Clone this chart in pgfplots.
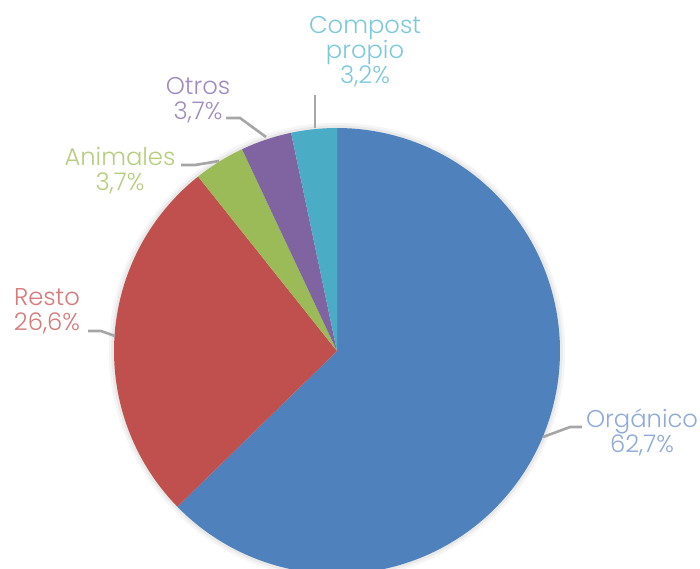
\documentclass[border=0pt]{standalone}
\usepackage{pgfplots}
\pgfplotsset{compat=1.18}
\usepackage{fontspec}
\setmainfont{Poppins}[UprightFont=*-Light]
\definecolor{cOrg}{HTML}{4F81BD}
\definecolor{cRes}{HTML}{C0504D}
\definecolor{cAni}{HTML}{9BBB59}
\definecolor{cOtr}{HTML}{8064A2}
\definecolor{cCom}{HTML}{4BACC6}
\definecolor{tOrg}{HTML}{8EAAD8}
\definecolor{tRes}{HTML}{D57A78}
\definecolor{tAni}{HTML}{B5CE7E}
\definecolor{tOtr}{HTML}{A08BC0}
\definecolor{tCom}{HTML}{7CC8DC}
\definecolor{lead}{HTML}{A6A6A6}
% cumulative shares (percent): Organico 62.7, Resto 26.6, Animales 3.7, Otros 3.7, Compost propio 3.2
\begin{document}
\begin{tikzpicture}
\begin{axis}[hide axis, scale only axis, width=14cm, height=11.36cm,
  xmin=0, xmax=700, ymin=0, ymax=568, clip=true]
\coordinate (SW) at (rel axis cs:0,0);
\coordinate (NE) at (rel axis cs:1,1);
\def\cx{337}\def\cy{217}\def\rr{223}
% soft shadow
\addplot[draw=black, draw opacity=0.04, line width=6pt, domain=0:360, samples=120, variable=\t]
  ({\cx+\rr*cos(\t)}, {\cy+\rr*sin(\t)});
\addplot[draw=black, draw opacity=0.05, line width=3pt, domain=0:360, samples=120, variable=\t]
  ({\cx+\rr*cos(\t)}, {\cy+\rr*sin(\t)});
\addplot[fill=cOrg, draw=none, domain=0:62.7, samples=120, variable=\t]
  ({\cx+\rr*cos(90-3.6*\t)}, {\cy+\rr*sin(90-3.6*\t)}) -- (axis cs:337,217) -- cycle;
\addplot[fill=cRes, draw=none, domain=62.7:89.3, samples=60, variable=\t]
  ({\cx+\rr*cos(90-3.6*\t)}, {\cy+\rr*sin(90-3.6*\t)}) -- (axis cs:337,217) -- cycle;
\addplot[fill=cAni, draw=none, domain=89.3:93.0, samples=15, variable=\t]
  ({\cx+\rr*cos(90-3.6*\t)}, {\cy+\rr*sin(90-3.6*\t)}) -- (axis cs:337,217) -- cycle;
\addplot[fill=cOtr, draw=none, domain=93.0:96.7, samples=15, variable=\t]
  ({\cx+\rr*cos(90-3.6*\t)}, {\cy+\rr*sin(90-3.6*\t)}) -- (axis cs:337,217) -- cycle;
\addplot[fill=cCom, draw=none, domain=96.7:100, samples=15, variable=\t]
  ({\cx+\rr*cos(90-3.6*\t)}, {\cy+\rr*sin(90-3.6*\t)}) -- (axis cs:337,217) -- cycle;
% leader lines
\addplot[lead, line width=1.5pt] coordinates {(315,473) (315,440)};
\addplot[lead, line width=1.5pt] coordinates {(226,450) (240,450) (266,431)};
\addplot[lead, line width=1.5pt] coordinates {(181,403) (195,403) (219,407)};
\addplot[lead, line width=1.5pt] coordinates {(88,237) (101,237) (115,232)};
\addplot[lead, line width=1.5pt] coordinates {(543,131) (570,141) (582,141)};
% labels
\tikzset{lab/.style={align=center, font=\fontsize{13.8}{14.2}\selectfont, inner sep=0pt}}
\node[lab, text=tCom] at (axis cs:365,516) {Compost\\propio\\3,2\%};
\node[lab, text=tOtr] at (axis cs:198,468) {Otros\\3,7\%};
\node[lab, text=tAni] at (axis cs:120,397) {Animales\\3,7\%};
\node[lab, text=tRes] at (axis cs:47,257) {Resto\\26,6\%};
\node[lab, text=tOrg] at (axis cs:642,136) {Orgánico\\62,7\%};
\end{axis}
\pgfresetboundingbox
\path[use as bounding box] (SW) rectangle (NE);
\end{tikzpicture}
\end{document}
